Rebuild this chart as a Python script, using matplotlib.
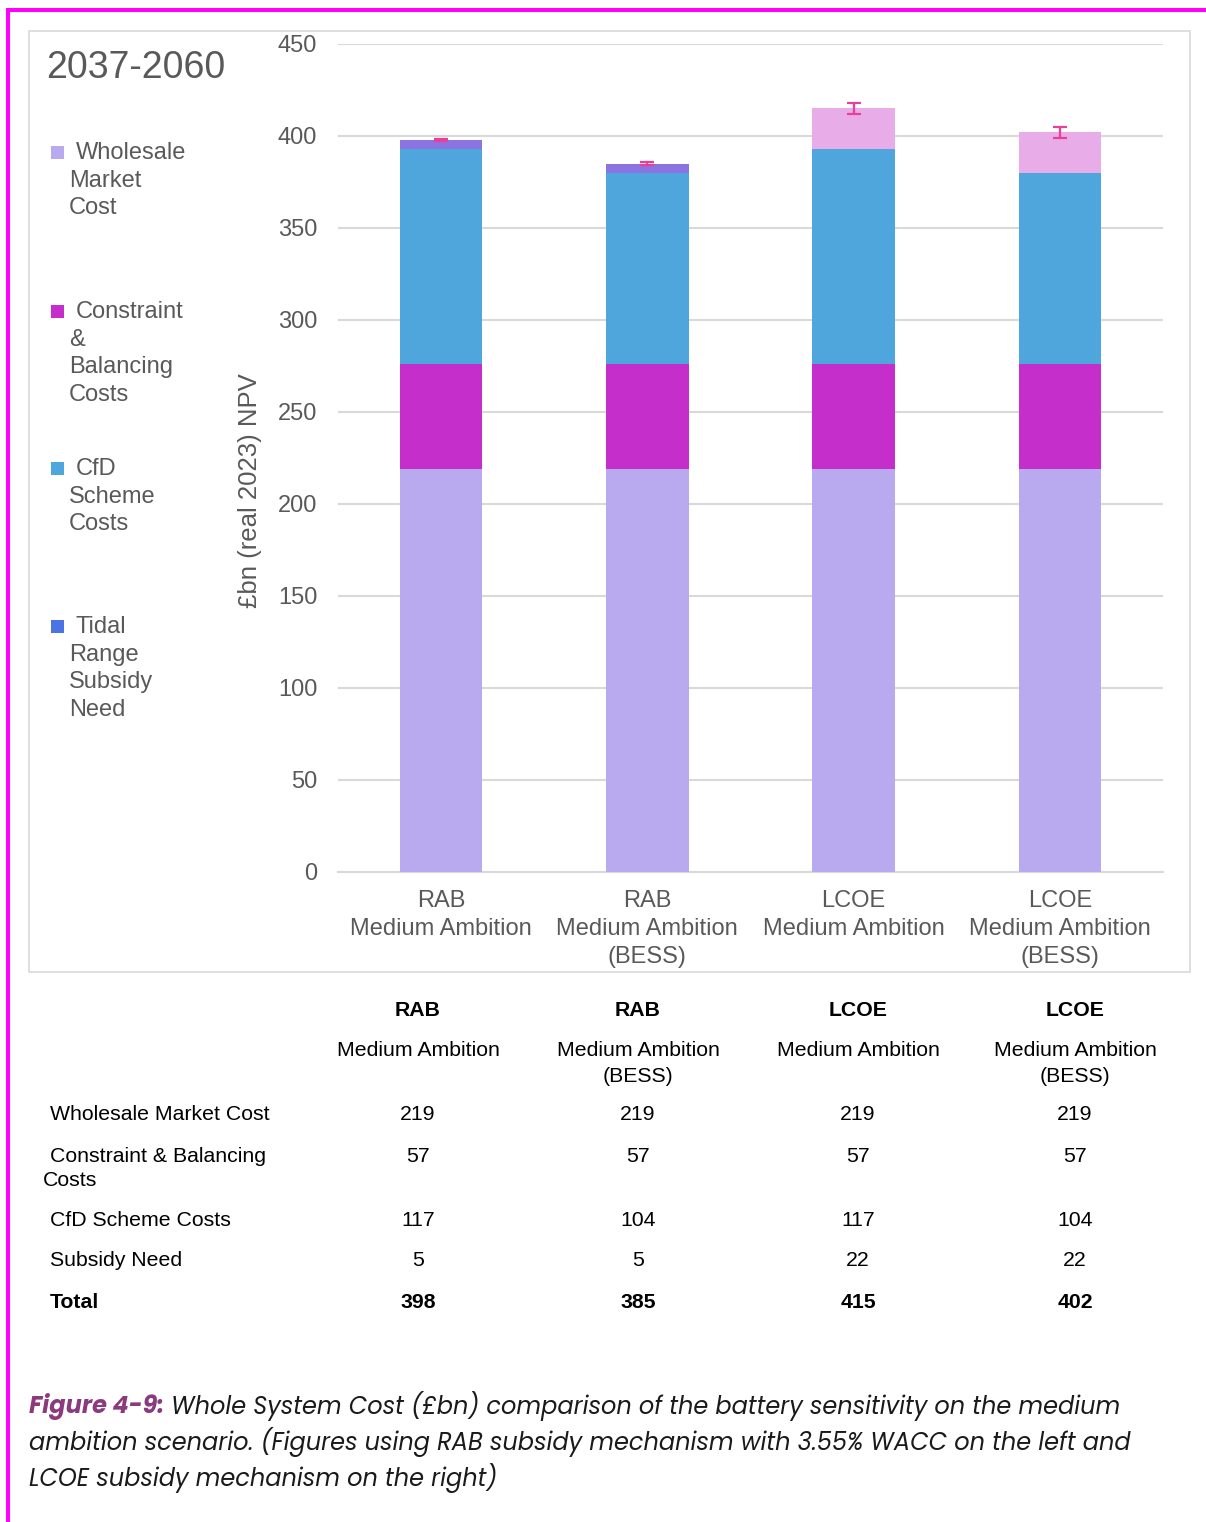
import matplotlib
matplotlib.use("Agg")
import matplotlib.pyplot as plt
from matplotlib.patches import Rectangle
import numpy as np

# ---- data -------------------------------------------------------------
schemes = ["RAB", "RAB", "LCOE", "LCOE"]
variants = ["Medium Ambition", "Medium Ambition\n(BESS)",
            "Medium Ambition", "Medium Ambition\n(BESS)"]
wholesale = [219, 219, 219, 219]
constraint = [57, 57, 57, 57]
cfd = [117, 104, 117, 104]
subsidy = [5, 5, 22, 22]
subsidy_err = [0.6, 0.6, 3, 3]
yticks = [0, 50, 100, 150, 200, 250, 300, 350, 400, 450]
legend_labels = ["Wholesale\nMarket\nCost", "Constraint\n&\nBalancing\nCosts",
                 "CfD\nScheme\nCosts", "Tidal\nRange\nSubsidy\nNeed"]
row_labels = ["Wholesale Market Cost", "Constraint & Balancing\nCosts",
              "CfD Scheme Costs", "Subsidy Need", "Total"]

# ---- styling ----------------------------------------------------------
W, H = 1206, 1522
C_WHOLE = "#B9A9EE"
C_CONS = "#C62ECB"
C_CFD = "#4FA6DC"
C_SUB = ["#8B74E2", "#8B74E2", "#E8ACE8", "#E8ACE8"]
C_TIDAL = "#4A74E4"
C_ERR = "#E8409A"
GRID = "#D9D9D9"
TXT = "#595959"
SANS = ["Liberation Sans", "DejaVu Sans"]

plt.rcParams["font.family"] = SANS


def fx(px):
    return px / W


def fy(py):
    return 1 - py / H


fig = plt.figure(figsize=(W / 100, H / 100), dpi=100)
fig.patch.set_facecolor("white")

# page accent lines
fig.add_artist(Rectangle((fx(6), fy(12)), 1 - fx(6), 4 / H, transform=fig.transFigure,
                         facecolor="#FF00FF", edgecolor="none"))
fig.add_artist(Rectangle((fx(6), 0), fx(4), fy(8), transform=fig.transFigure,
                         facecolor="#FF00FF", edgecolor="none"))

# chart frame
fig.add_artist(Rectangle((fx(29), fy(972)), fx(1190 - 29), (972 - 31) / H,
                         transform=fig.transFigure, facecolor="none",
                         edgecolor=GRID, linewidth=1.2))

# ---- stacked bars -----------------------------------------------------
ax = fig.add_axes([fx(338), fy(872), fx(1163 - 338), (872 - 44) / H])
x = np.arange(len(schemes))
bw = 0.40
b1 = np.array(wholesale)
b2 = b1 + np.array(constraint)
b3 = b2 + np.array(cfd)
ax.bar(x, wholesale, bw, color=C_WHOLE, zorder=3)
ax.bar(x, constraint, bw, bottom=b1, color=C_CONS, zorder=3)
ax.bar(x, cfd, bw, bottom=b2, color=C_CFD, zorder=3)
ax.bar(x, subsidy, bw, bottom=b3, color=C_SUB, zorder=3)
tops = b3 + np.array(subsidy)
ax.errorbar(x, tops, yerr=subsidy_err, fmt="none", ecolor=C_ERR,
            elinewidth=1.6, capsize=5, capthick=1.6, zorder=4)

ax.set_xlim(-0.5, len(schemes) - 0.5)
ax.set_ylim(0, 450)
ax.set_yticks(yticks)
ax.set_yticklabels([str(v) for v in yticks])
ax.set_xticks(x)
ax.set_xticklabels([f"{s}\n{v}" for s, v in zip(schemes, variants)],
                   va="top", linespacing=1.34)
ax.tick_params(axis="both", length=0, labelsize=17, labelcolor=TXT)
ax.tick_params(axis="y", pad=15)
ax.tick_params(axis="x", pad=13)
for lab in ax.get_yticklabels():
    lab.set_horizontalalignment("right")
ax.grid(axis="y", color=GRID, linewidth=1.5, zorder=0)
for s in ["top", "right", "left"]:
    ax.spines[s].set_visible(False)
ax.spines["bottom"].set_color(GRID)
ax.spines["bottom"].set_linewidth(1.5)
ax.set_ylabel("£bn (real 2023) NPV", fontsize=18.5, color=TXT)
ax.yaxis.set_label_coords((250 - 338) / 825, (872 - 491) / 828)
ax.yaxis.label.set_verticalalignment("center")

# ---- title and legend -------------------------------------------------
fig.text(fx(46), fy(68), "2037-2060", fontsize=27, color=TXT, ha="left", va="center")

leg_colors = [C_WHOLE, C_CONS, C_CFD, C_TIDAL]
leg_y = [153, 312, 469, 627]
for lab, col, yy in zip(legend_labels, leg_colors, leg_y):
    fig.add_artist(Rectangle((fx(51), fy(yy + 6)), fx(13), 13 / H,
                             transform=fig.transFigure, facecolor=col,
                             edgecolor="none"))
    lines = lab.split("\n")
    for i, ln in enumerate(lines):
        fig.text(fx(76 if i == 0 else 69), fy(yy + i * 27.7), ln, fontsize=17,
                 color=TXT, ha="left", va="center")

# ---- data table -------------------------------------------------------
col_x = [418, 638, 858, 1075]
TS = 15.3
for cx, s, v in zip(col_x, schemes, variants):
    fig.text(fx(cx), fy(1010), s, fontsize=TS, weight="bold", color="black",
             ha="center", va="center")
    for i, ln in enumerate(v.split("\n")):
        fig.text(fx(cx), fy(1050 + i * 26), ln, fontsize=TS, color="black",
                 ha="center", va="center")

totals = [w + c + f + s for w, c, f, s in zip(wholesale, constraint, cfd, subsidy)]
table_rows = [wholesale, constraint, cfd, subsidy, totals]
row_y = [1115, 1156, 1221, 1261, 1302]
for lab, vals, yy in zip(row_labels, table_rows, row_y):
    bold = lab == "Total"
    for i, ln in enumerate(lab.split("\n")):
        fig.text(fx(50 if i == 0 else 43), fy(yy + i * 25), ln, fontsize=TS,
                 color="black", ha="left", va="center",
                 weight="bold" if bold else "normal")
    for cx, val in zip(col_x, vals):
        fig.text(fx(cx), fy(yy), str(val), fontsize=TS, color="black",
                 ha="center", va="center", weight="bold" if bold else "normal")

# ---- caption ----------------------------------------------------------
CAP = ["Poppins", "Lato", "Open Sans", "DejaVu Sans"]
cap_size = 17.3
t0 = fig.text(fx(29), fy(1406), "Figure 4-9:", fontsize=cap_size, family=CAP,
              style="italic", weight="bold", color="#8B3A7E", ha="left",
              va="center")
fig.canvas.draw()
r = fig.canvas.get_renderer()
bb = t0.get_window_extent(r)
fig.text(bb.x1 / W, fy(1406),
         " Whole System Cost (£bn) comparison of the battery sensitivity on the medium",
         fontsize=cap_size, family=CAP, style="italic", color="#1A1A1A",
         ha="left", va="center")
fig.text(fx(29), fy(1442),
         "ambition scenario. (Figures using RAB subsidy mechanism with 3.55% WACC on the left and",
         fontsize=cap_size, family=CAP, style="italic", color="#1A1A1A",
         ha="left", va="center")
fig.text(fx(29), fy(1478), "LCOE subsidy mechanism on the right)",
         fontsize=cap_size, family=CAP, style="italic", color="#1A1A1A",
         ha="left", va="center")

fig.savefig("out.png", dpi=100, facecolor="white")
